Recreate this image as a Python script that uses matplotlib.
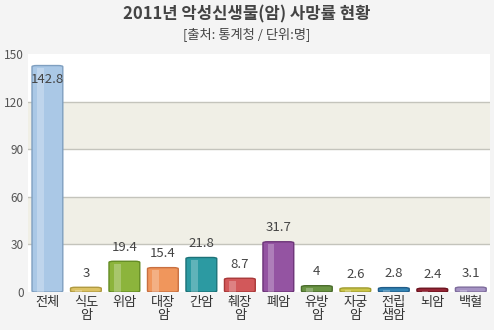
import matplotlib
matplotlib.use("Agg")
import matplotlib.pyplot as plt
from matplotlib.patches import FancyBboxPatch

plt.rcParams["font.family"] = ["Noto Sans CJK KR", "DejaVu Sans"]

categories = ["전체", "식도\n암", "위암", "대장\n암", "간암", "췌장\n암", "폐암",
              "유방\n암", "자궁\n암", "전립\n샘암", "뇌암", "백혈"]
values = [142.8, 3, 19.4, 15.4, 21.8, 8.7, 31.7, 4, 2.6, 2.8, 2.4, 3.1]
labels = ["142.8", "3", "19.4", "15.4", "21.8", "8.7", "31.7", "4", "2.6", "2.8", "2.4", "3.1"]
colors = ["#aac8e6", "#dcc264", "#8cb43c", "#f0965c", "#2c9aa2", "#d2585a",
          "#9454a2", "#6a9444", "#cac448", "#3484b4", "#942434", "#a694c4"]
edges = ["#7f9fc0", "#b09a40", "#648c24", "#c87040", "#1c7278", "#a83838",
         "#6c3478", "#4a6c2c", "#a09c30", "#205c88", "#6c1420", "#7e6c9c"]
yticks = [0, 30, 60, 90, 120, 150]

fig = plt.figure(figsize=(4.94, 3.30), dpi=100, facecolor="#f4f4f4")
ax = fig.add_axes([0.057, 0.115, 0.935, 0.721])
ax.set_facecolor("white")
ax.set_xlim(-0.5, len(values) - 0.5)
ax.set_ylim(0, 150)

# 번갈아 나오는 배경 띠
for lo, hi in [(30, 60), (90, 120)]:
    ax.axhspan(lo, hi, color="#f0efe6", zorder=0, lw=0)
for t in yticks[1:-1]:
    ax.axhline(t, color="#c4c4bc", lw=1, zorder=1)

w = 0.8
for i, (v, c, e) in enumerate(zip(values, colors, edges)):
    box = FancyBboxPatch((i - w / 2, 0), w, v,
                         boxstyle="round,pad=0,rounding_size=0.12",
                         mutation_aspect=6, fc=c, ec=e, lw=1, zorder=2)
    ax.add_patch(box)
    # 광택 느낌
    ax.add_patch(plt.Rectangle((i - w / 2 + 0.12, 0), 0.18, max(v - 1.5, 0),
                               fc="white", alpha=0.25, lw=0, zorder=3))

for i, (v, s) in enumerate(zip(values, labels)):
    dy = -10 if v > 130 else 10
    ax.annotate(s, (i, v), xytext=(0, dy), textcoords="offset points",
                ha="center", va="center", fontsize=9.5, color="#444444", zorder=4)

ax.set_xticks(range(len(categories)))
ax.set_xticklabels(categories, fontsize=9.5, color="#333333", linespacing=0.95)
ax.set_yticks(yticks)
ax.set_yticklabels([str(t) for t in yticks], fontsize=8.5, color="#555555")
ax.tick_params(axis="both", length=0, pad=3)
for sp in ax.spines.values():
    sp.set_visible(False)

fig.text(0.5, 0.955, "2011년 악성신생물(암) 사망률 현황", ha="center", va="center",
         fontsize=12, fontweight="bold", color="#444444")
fig.text(0.5, 0.898, "[출처: 통계청 / 단위:명]", ha="center", va="center",
         fontsize=9.5, color="#444444")

fig.savefig("out.png", dpi=100, facecolor=fig.get_facecolor())
